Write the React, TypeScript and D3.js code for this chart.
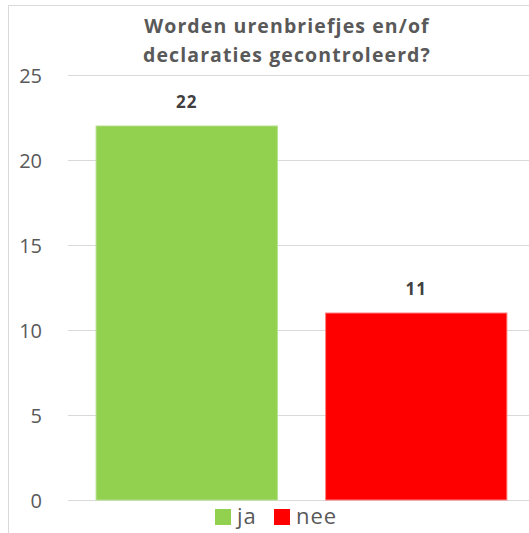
import { useEffect, useRef } from 'react';
import * as d3 from 'd3';

// Data
const categories = ['ja', 'nee'];
const values = [22, 11];
const barColors = ['#92D050', '#FF0000'];
const barStrokes = ['#B5E08A', '#FF8080'];
const yTicks = [0, 5, 10, 15, 20, 25];
const titleLines = ['Worden urenbriefjes en/of', 'declaraties gecontroleerd?'];

const W = 529;
const H = 533;
const TEXT = '#595959';
const GRID = '#D9D9D9';
const FONT = '"Open Sans", Lato, sans-serif';

export default function App() {
  const svgRef = useRef<SVGSVGElement>(null);

  useEffect(() => {
    if (!svgRef.current) return;
    const svg = d3.select(svgRef.current);
    svg.selectAll('*').remove();

    svg.append('rect').attr('width', W).attr('height', H).attr('fill', '#fff');

    // chart frame (right and bottom edges fall outside the picture)
    svg.append('rect')
      .attr('x', 8.5).attr('y', 5.5)
      .attr('width', W + 20).attr('height', H + 20)
      .attr('fill', 'none').attr('stroke', GRID).attr('stroke-width', 1);

    const x = d3.scaleBand<string>()
      .domain(categories)
      .range([72, 531])
      .paddingInner(0.21)
      .paddingOuter(0.105);

    const y = d3.scaleLinear().domain([0, 25]).range([500, 75]);

    // gridlines
    svg.selectAll('.grid')
      .data(yTicks)
      .join('line')
      .attr('x1', 68).attr('x2', W)
      .attr('y1', (d) => Math.round(y(d)) + 0.5)
      .attr('y2', (d) => Math.round(y(d)) + 0.5)
      .attr('stroke', GRID).attr('stroke-width', 1);

    // y labels
    svg.selectAll('.ylab')
      .data(yTicks)
      .join('text')
      .attr('x', 42)
      .attr('y', (d) => y(d) + 3)
      .attr('text-anchor', 'end')
      .attr('dominant-baseline', 'middle')
      .attr('fill', TEXT)
      .attr('font-family', FONT)
      .attr('font-size', 20)
      .text((d) => String(d));

    // bars
    svg.selectAll('.bar')
      .data(values)
      .join('rect')
      .attr('x', (_d, i) => x(categories[i])!)
      .attr('y', (d) => y(d))
      .attr('width', x.bandwidth())
      .attr('height', (d) => y(0) - y(d))
      .attr('fill', (_d, i) => barColors[i])
      .attr('stroke', (_d, i) => barStrokes[i])
      .attr('stroke-width', 1);

    // value labels
    svg.selectAll('.val')
      .data(values)
      .join('text')
      .attr('x', (_d, i) => x(categories[i])! + x.bandwidth() / 2)
      .attr('y', (d) => y(d) - 18)
      .attr('text-anchor', 'middle')
      .attr('fill', '#404040')
      .attr('font-family', FONT)
      .attr('font-weight', 'bold')
      .attr('font-size', 17)
      .attr('letter-spacing', 1)
      .text((d) => String(d));

    // title
    svg.selectAll('.title')
      .data(titleLines)
      .join('text')
      .attr('x', 287)
      .attr('y', (_d, i) => 33 + i * 29)
      .attr('text-anchor', 'middle')
      .attr('fill', TEXT)
      .attr('font-family', FONT)
      .attr('font-weight', 'bold')
      .attr('font-size', 19.5)
      .attr('letter-spacing', 1.1)
      .text((d) => d);

    // legend
    const legendX = [215, 274];
    const lg = svg.selectAll('.leg')
      .data(categories)
      .join('g')
      .attr('transform', (_d, i) => `translate(${legendX[i]},509)`);
    lg.append('rect')
      .attr('width', 16).attr('height', 16)
      .attr('fill', (_d, i) => barColors[i]);
    lg.append('text')
      .attr('x', 22).attr('y', 15)
      .attr('fill', TEXT)
      .attr('font-family', FONT)
      .attr('font-size', 22)
      .attr('letter-spacing', 1)
      .text((d) => d);
  }, []);

  return (
    <svg
      ref={svgRef}
      width={W}
      height={H}
      style={{ position: 'fixed', left: 0, top: 0, display: 'block' }}
    />
  );
}
